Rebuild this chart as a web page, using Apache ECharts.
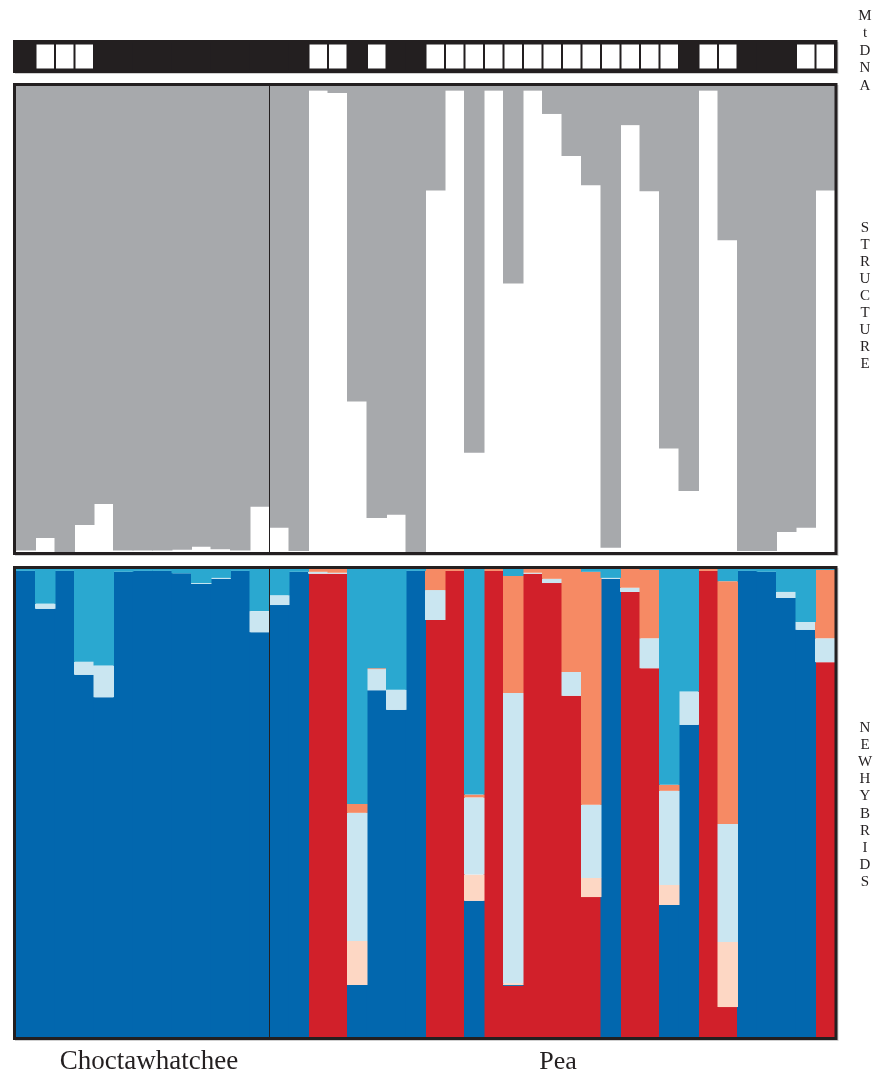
<!DOCTYPE html>
<html>
<head>
<meta charset="utf-8">
<script src="https://cdn.jsdelivr.net/npm/echarts@6/dist/echarts.min.js"></script>
<style>
  html, body { margin: 0; padding: 0; background: #fff; }
  #chart { width: 873px; height: 1075px; }
</style>
</head>
<body>
<div id="chart"></div>
<script>
// populations and how many individuals each has
var populations = ['Choctawhatchee', 'Pea'];
var popSizes = [13, 29];

// mtDNA haplotype per individual: 1 = white, 0 = black
var mtdna = [0, 1, 1, 1, 0, 0, 0, 0, 0, 0, 0, 0, 0,
  0, 0, 1, 1, 0, 1, 0, 0, 1, 1, 1, 1, 1, 1, 1, 1, 1, 1, 1, 1, 1, 0, 1, 1, 0, 0, 0, 1, 1];

// STRUCTURE: proportion assigned to the Pea cluster (white)
var structurePea = [0.003, 0.03, 0, 0.058, 0.103, 0.003, 0.003, 0.003, 0.005, 0.011, 0.006, 0.003, 0.097,
  0.052, 0.002, 0.99, 0.985, 0.323, 0.073, 0.08, 0, 0.776, 0.99, 0.213, 0.99, 0.576, 0.99, 0.94,
  0.85, 0.787, 0.009, 0.916, 0.774, 0.222, 0.131, 0.99, 0.669, 0.002, 0.002, 0.043, 0.052, 0.776];

// NEWHYBRIDS posterior probabilities (stacked bottom -> top)
var purePea = [0, 0, 0, 0, 0, 0, 0, 0, 0, 0, 0, 0, 0,
  0, 0, 0.99, 0.99, 0, 0, 0, 0, 0.891, 0.996, 0, 0.996, 0.109, 0.99, 0.97,
  0.729, 0.299, 0, 0.951, 0.788, 0, 0, 0.996, 0.064, 0, 0, 0, 0, 0.801];
var pureChoc = [0.996, 0.915, 0.996, 0.774, 0.726, 0.994, 0.996, 0.996, 0.991, 0.968, 0.979, 0.996, 0.865,
  0.923, 0.994, 0, 0, 0.111, 0.741, 0.699, 0.996, 0, 0, 0.291, 0, 0.002, 0, 0,
  0, 0, 0.979, 0, 0, 0.282, 0.667, 0, 0, 0.996, 0.994, 0.938, 0.87, 0];
var f1 = [0, 0, 0, 0, 0, 0, 0, 0, 0, 0, 0, 0, 0,
  0, 0, 0, 0, 0.094, 0, 0, 0, 0, 0, 0.056, 0, 0.004, 0, 0,
  0, 0.041, 0, 0, 0, 0.043, 0, 0, 0.139, 0, 0, 0, 0, 0];
var f2 = [0, 0.011, 0, 0.028, 0.068, 0, 0, 0, 0, 0.002, 0.002, 0, 0.045,
  0.021, 0, 0.004, 0.002, 0.274, 0.045, 0.043, 0, 0.064, 0, 0.165, 0, 0.62, 0.002, 0.009,
  0.051, 0.156, 0.002, 0.009, 0.064, 0.201, 0.071, 0, 0.252, 0, 0, 0.013, 0.017, 0.051];
var bcPea = [0, 0, 0, 0, 0, 0, 0, 0, 0, 0, 0, 0, 0,
  0, 0, 0.006, 0.008, 0.019, 0.002, 0, 0, 0.045, 0.004, 0.006, 0.004, 0.25, 0.008, 0.021,
  0.22, 0.498, 0, 0.04, 0.146, 0.013, 0, 0.004, 0.519, 0, 0, 0, 0, 0.146];
var bcChoc = [0.004, 0.074, 0.004, 0.198, 0.206, 0.006, 0.004, 0.004, 0.009, 0.03, 0.019, 0.004, 0.09,
  0.056, 0.006, 0, 0, 0.502, 0.212, 0.258, 0.004, 0, 0, 0.482, 0, 0.015, 0, 0,
  0, 0.006, 0.019, 0, 0.002, 0.461, 0.262, 0, 0.026, 0.004, 0.006, 0.049, 0.113, 0.002];

var categories = [];
populations.forEach(function (p, i) {
  for (var k = 1; k <= popSizes[i]; k++) categories.push(p + ' ' + k);
});

var INK = '#231f20';
var GRID_L = 16, GRID_W = 819;
// a bit wider than one category so neighbours overlap (no hairline seams)
var BAR_W = GRID_W / categories.length + 1;

function stackBar(name, data, idx, color, stack) {
  return {
    name: name, type: 'bar', stack: stack, data: data,
    xAxisIndex: idx, yAxisIndex: idx,
    barWidth: BAR_W, itemStyle: { color: color }, silent: true
  };
}

var chart = echarts.init(document.getElementById('chart'));

var grids = [
  { left: GRID_L, top: 43, width: GRID_W, height: 27 },
  { left: GRID_L, top: 86, width: GRID_W, height: 466 },
  { left: GRID_L, top: 569, width: GRID_W, height: 468 }
];

function frame(y, h) {
  return [
    // soft shadow, kept under the bars so it only shows right/bottom
    { type: 'rect', shape: { x: 16, y: y + 1.5, width: 821.5, height: h }, z: 0,
      style: { fill: 'none', stroke: '#cfcfcf', lineWidth: 2 } },
    { type: 'rect', shape: { x: 14.5, y: y, width: 821.5, height: h }, z: 100,
      style: { fill: 'none', stroke: INK, lineWidth: 3 } }
  ];
}

var divX = GRID_L + popSizes[0] * GRID_W / categories.length;

var graphics = []
  .concat(frame(41.5, 30))
  .concat(frame(84.5, 469))
  .concat(frame(567.5, 471))
  .concat([
    { type: 'line', shape: { x1: divX, y1: 86, x2: divX, y2: 552 }, z: 98, style: { stroke: INK, lineWidth: 1 } },
    { type: 'line', shape: { x1: divX, y1: 569, x2: divX, y2: 1037 }, z: 98, style: { stroke: INK, lineWidth: 1 } },
    { type: 'text', x: 865, y: 7, z: 100,
      style: { text: 'M\nt\nD\nN\nA', font: '15px "Liberation Serif"', lineHeight: 17.5, textAlign: 'center', fill: INK } },
    { type: 'text', x: 865, y: 220, z: 100,
      style: { text: 'STRUCTURE'.split('').join('\n'), font: '15px "Liberation Serif"', lineHeight: 17, textAlign: 'center', fill: INK } },
    { type: 'text', x: 865, y: 719, z: 100,
      style: { text: 'NEWHYBRIDS'.split('').join('\n'), font: '15px "Liberation Serif"', lineHeight: 17.2, textAlign: 'center', fill: INK } },
    { type: 'text', x: 149, y: 1062, z: 100,
      style: { text: populations[0], font: '27px "Liberation Serif"', textAlign: 'center', textVerticalAlign: 'middle', fill: INK } },
    { type: 'text', x: 558, y: 1062, z: 100,
      style: { text: populations[1], font: '26px "Liberation Serif"', textAlign: 'center', textVerticalAlign: 'middle', fill: INK } }
  ]);

chart.setOption({
  animation: false,
  backgroundColor: '#fff',
  grid: grids,
  xAxis: [0, 1, 2].map(function (i) {
    return { type: 'category', data: categories, gridIndex: i, show: false, boundaryGap: true };
  }),
  yAxis: [0, 1, 2].map(function (i) {
    return { type: 'value', gridIndex: i, min: 0, max: 1, show: false };
  }),
  series: [
    {
      name: 'mtDNA', type: 'bar', xAxisIndex: 0, yAxisIndex: 0, barWidth: BAR_W, silent: true,
      data: mtdna.map(function (v) {
        return {
          value: 1,
          itemStyle: v ? { color: '#fff', borderColor: INK, borderWidth: 1.5 } : { color: INK }
        };
      })
    },
    stackBar('Pea cluster', structurePea, 1, '#ffffff', 'structure'),
    stackBar('Choctawhatchee cluster', structurePea.map(function (v) { return 1 - v; }), 1, '#a7a9ac', 'structure'),
    stackBar('Pure Pea', purePea, 2, '#d1202a', 'nh'),
    stackBar('Pure Choctawhatchee', pureChoc, 2, '#0267ae', 'nh'),
    stackBar('F1', f1, 2, '#fdd7c4', 'nh'),
    stackBar('F2', f2, 2, '#cae6f1', 'nh'),
    stackBar('Backcross Pea', bcPea, 2, '#f68a64', 'nh'),
    stackBar('Backcross Choctawhatchee', bcChoc, 2, '#2aa8d0', 'nh')
  ],
  graphic: graphics
});
</script>
</body>
</html>
